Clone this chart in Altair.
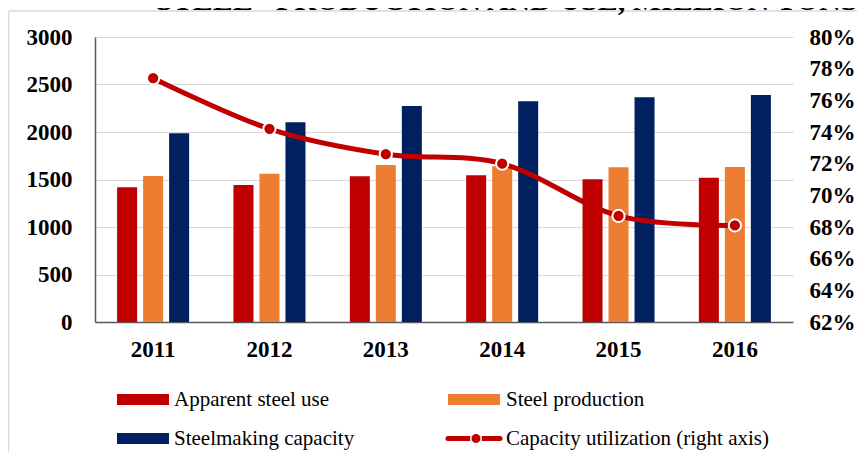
import altair as alt
import pandas as pd

years = ["2011", "2012", "2013", "2014", "2015", "2016"]
apparent_use = [1418, 1442, 1533, 1544, 1502, 1519]
production = [1537, 1561, 1653, 1640, 1628, 1632]
capacity = [1986, 2102, 2274, 2323, 2365, 2389]
utilization = [77.4, 74.2, 72.6, 72.0, 68.7, 68.1]

series = ["Apparent steel use", "Steel production", "Steelmaking capacity"]
line_name = "Capacity utilization (right axis)"
colors = ["#C00000", "#ED7D31", "#002060"]
line_color = "#C00000"
title_text = "STEEL - PRODUCTION AND USE, MILLION TONS"
left_ticks = [0, 500, 1000, 1500, 2000, 2500, 3000]
right_ticks = [62, 64, 66, 68, 70, 72, 74, 76, 78, 80]

FONT = "Liberation Serif"

rows = []
for name, vals in zip(series, [apparent_use, production, capacity]):
    for y, v in zip(years, vals):
        rows.append({"year": y, "series": name, "value": v})
bar_df = pd.DataFrame(rows)
util_df = pd.DataFrame({"year": years, "util": utilization})

xenc = alt.X("year:N", sort=years,
             scale=alt.Scale(paddingInner=0.381, paddingOuter=0.19),
             axis=alt.Axis(title=None, labelAngle=0, labelFont=FONT, labelFontSize=23,
                           labelFontWeight="bold", labelColor="black", labelPadding=16,
                           ticks=False, domainColor="#595959", domainWidth=1.5))

bars = alt.Chart(bar_df).mark_bar().encode(
    x=xenc,
    xOffset=alt.XOffset("series:N", sort=series,
                        scale=alt.Scale(paddingInner=0.23, paddingOuter=0)),
    y=alt.Y("value:Q", scale=alt.Scale(domain=[0, 3000], nice=False),
            axis=alt.Axis(values=left_ticks, format="d", title=None, grid=True,
                          gridColor="#D9D9D9", gridWidth=1.2, ticks=False,
                          domainColor="#595959", domainWidth=1.5,
                          labelPadding=23, labelFont=FONT, labelFontSize=23,
                          labelFontWeight="bold", labelColor="black")),
    color=alt.Color("series:N", scale=alt.Scale(domain=series, range=colors), legend=None),
)

yline = alt.Y("util:Q", scale=alt.Scale(domain=[62, 80], nice=False, zero=False),
              axis=alt.Axis(orient="right", values=right_ticks, title=None, grid=False,
                            ticks=False, domain=False, labelPadding=16,
                            labelExpr="datum.value + '%'", labelFont=FONT, labelFontSize=23,
                            labelFontWeight="bold", labelColor="black"))
line = alt.Chart(util_df).mark_line(color=line_color, strokeWidth=5, interpolate="cardinal").encode(
    x=xenc, y=yline)
pts = alt.Chart(util_df).mark_circle(size=150, color=line_color, stroke="white",
                                     strokeWidth=2, opacity=1).encode(
    x=xenc, y=yline)
util_layer = alt.layer(line, pts)

# manual legend
def legend_text(label, x, y):
    return alt.Chart(pd.DataFrame({"t": [label]})).mark_text(
        align="left", baseline="middle", font=FONT, fontSize=21, color="black"
    ).encode(x=alt.value(x), y=alt.value(y), text="t:N")

def legend_rect(color, x, y):
    return alt.Chart(pd.DataFrame({"t": [color]})).mark_rect(color=color).encode(
        x=alt.value(x), x2=alt.value(x + 52), y=alt.value(y - 5.5), y2=alt.value(y + 5.5))

r1, r2 = 362.5, 401.5
leg = [
    legend_rect(colors[0], 22, r1), legend_text(series[0], 79, r1),
    legend_rect(colors[1], 353, r1), legend_text(series[1], 411, r1),
    legend_rect(colors[2], 22, r2), legend_text(series[2], 79, r2),
    alt.Chart(pd.DataFrame({"t": [line_name]})).mark_rule(
        color=line_color, strokeWidth=5, strokeCap="round").encode(
        x=alt.value(353), x2=alt.value(405), y=alt.value(r2)),
    alt.Chart(pd.DataFrame({"t": [line_name]})).mark_circle(
        size=110, color=line_color, stroke="white", strokeWidth=1.5, opacity=1).encode(
        x=alt.value(381), y=alt.value(r2)),
    legend_text(line_name, 411, r2),
]

frame_df = pd.DataFrame({"t": ["frame"]})
frame = [
    alt.Chart(frame_df).mark_rule(color="#D9D9D9", strokeWidth=1.5).encode(
        x=alt.value(-86.5), y=alt.value(-26), y2=alt.value(430)),
    alt.Chart(frame_df).mark_rule(color="#D9D9D9", strokeWidth=1.5).encode(
        x=alt.value(-86.5), x2=alt.value(790), y=alt.value(-26)),
]

title = alt.Chart(pd.DataFrame({"t": [title_text]})).mark_text(
    align="left", baseline="alphabetic", font=FONT, fontSize=30, fontWeight="bold", color="black"
).encode(x=alt.value(61), y=alt.value(-27), text="t:N")

chart = alt.layer(bars, util_layer, *leg, *frame, title).resolve_scale(
    y="independent"
).properties(
    width=698, height=285,
    padding={"left": 87, "top": 29, "right": 64, "bottom": 130},
    autosize=alt.AutoSizeParams(type="none"),
).configure_view(stroke=None)

chart.save("out.html", embed_options={"renderer": "svg", "actions": False})
